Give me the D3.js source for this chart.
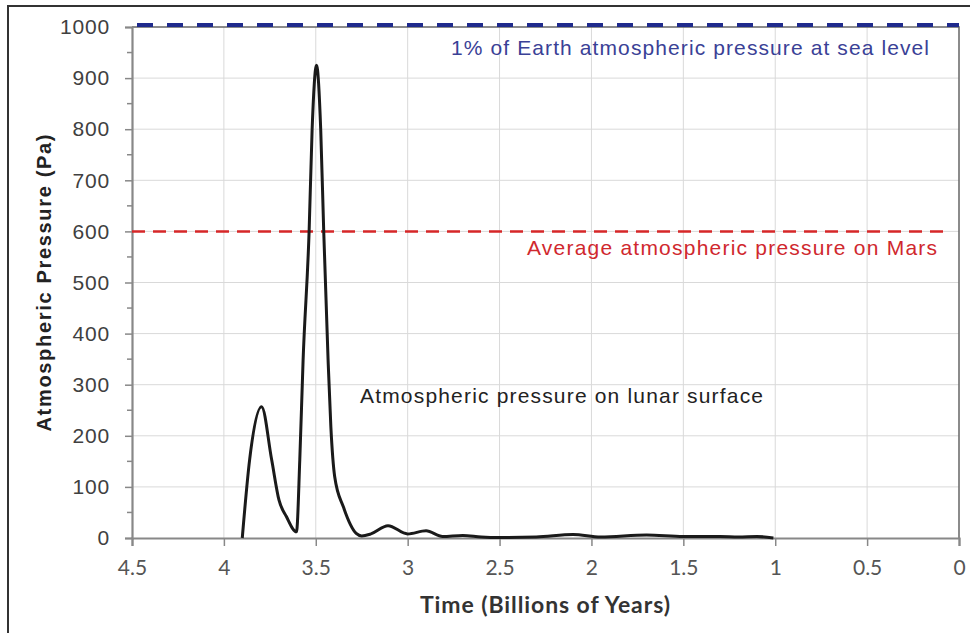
<!DOCTYPE html>
<html lang="en">
<head>
	<meta charset="UTF-8">
	<title>Lunar atmosphere</title>
	<script src="https://d3js.org/d3.v7.min.js"></script>
	<style>
		body { margin: 0; background: #fff; }
		.grid line { stroke: #d9d9d9; stroke-width: 1; }
		.ylab { font: 21px "Liberation Sans", Arial, sans-serif; fill: #404040; }
		.xlab { font: 21px Lato, sans-serif; fill: #555; }
		.note { font: 21px "Liberation Sans", Arial, sans-serif; }
	</style>
</head>
<body>
	<script>
		const width = 970;
		const height = 633;

		// lunar surface pressure curve (billions of years ago, Pa)
		const years = [3.9, 3.86, 3.795, 3.74, 3.70, 3.66, 3.605, 3.587, 3.569, 3.536, 3.52, 3.496, 3.473, 3.457, 3.433, 3.418, 3.397, 3.35, 3.28, 3.25, 3.2, 3.107, 3.0, 2.9, 2.81, 2.7, 2.6, 2.5, 2.3, 2.1, 1.95, 1.7, 1.5, 1.3, 1.2, 1.1, 1.01];
		const pressure = [0, 153, 257, 153, 74, 42, 12, 153, 348, 603, 798, 925, 798, 603, 348, 218, 120, 61, 9, 4, 8, 24, 8, 14, 3, 5, 2, 1, 2, 7, 2, 6, 3, 3, 2, 3, 0];

		const xTicks = [4.5, 4, 3.5, 3, 2.5, 2, 1.5, 1, 0.5, 0];
		const yTicks = [0, 100, 200, 300, 400, 500, 600, 700, 800, 900, 1000];
		const yMinor = [50, 150, 250, 350, 450, 550, 650, 750, 850, 950];

		const earthLevel = 1000;
		const marsLevel = 600;
		const earthLabel = "1% of Earth atmospheric pressure at sea level";
		const marsLabel = "Average atmospheric pressure on Mars";
		const moonLabel = "Atmospheric pressure on lunar surface";

		const svg = d3.select("body").append("svg")
			.attr("width", width)
			.attr("height", height);

		svg.append("rect")
			.attr("x", 8).attr("y", 6)
			.attr("width", 1000).attr("height", 1000)
			.attr("fill", "#fff")
			.attr("stroke", "#333")
			.attr("stroke-width", 2);

		const x = d3.scaleLinear().domain([4.5, 0]).range([132, 959]);
		const y = d3.scaleLinear().domain([0, 1000]).range([538, 27]);

		// gridlines
		const grid = svg.append("g").attr("class", "grid");
		grid.selectAll(".h")
			.data(yTicks.filter(d => d > 0 && d < 1000))
			.enter().append("line")
			.attr("x1", x(4.5)).attr("x2", x(0))
			.attr("y1", d => y(d)).attr("y2", d => y(d));
		grid.selectAll(".v")
			.data(xTicks.filter(d => d > 0 && d < 4.5))
			.enter().append("line")
			.attr("x1", d => x(d)).attr("x2", d => x(d))
			.attr("y1", y(0)).attr("y2", y(1000));

		// plot frame (top and right)
		svg.append("path")
			.attr("d", `M${x(4.5)},${y(1000)}H${x(0)}V${y(0)}`)
			.attr("fill", "none")
			.attr("stroke", "#666")
			.attr("stroke-width", 1.5);

		// y axis
		const yAxis = svg.append("g").attr("transform", `translate(${x(4.5)},0)`)
			.call(d3.axisLeft(y).tickValues(yTicks).tickSize(7).tickPadding(15).tickFormat(d3.format("d")));
		yAxis.select(".domain").attr("stroke", "#888").attr("stroke-width", 2.2);
		yAxis.selectAll(".tick line").attr("stroke", "#888").attr("stroke-width", 1.5);
		yAxis.selectAll(".tick text").attr("class", "ylab").attr("letter-spacing", 0.8).attr("font-size", null).attr("font-family", null).attr("fill", null);
		yAxis.append("g").selectAll("line")
			.data(yMinor)
			.enter().append("line")
			.attr("x1", -5).attr("x2", 0)
			.attr("y1", d => y(d)).attr("y2", d => y(d))
			.attr("stroke", "#888").attr("stroke-width", 1.5);

		// x axis
		const xAxis = svg.append("g").attr("transform", `translate(0,${y(0)})`)
			.call(d3.axisBottom(x).tickValues(xTicks).tickSize(8).tickPadding(14).tickFormat(d3.format("")));
		xAxis.select(".domain").attr("stroke", "#888").attr("stroke-width", 2.2);
		xAxis.selectAll(".tick line").attr("stroke", "#888").attr("stroke-width", 1.5);
		xAxis.selectAll(".tick text").attr("class", "xlab").attr("font-size", null).attr("font-family", null).attr("fill", null);

		// axis titles
		svg.append("text")
			.attr("x", 545).attr("y", 613)
			.attr("text-anchor", "middle")
			.attr("font-family", "Lato, sans-serif")
			.attr("font-weight", "bold")
			.attr("font-size", 23)
			.attr("fill", "#333")
			.attr("textLength", 250)
			.attr("lengthAdjust", "spacing")
			.text("Time (Billions of Years)");

		svg.append("text")
			.attr("transform", "translate(51,283) rotate(-90)")
			.attr("text-anchor", "middle")
			.attr("font-family", "'Liberation Sans', Arial, sans-serif")
			.attr("font-weight", "bold")
			.attr("font-size", 20)
			.attr("fill", "#222")
			.attr("textLength", 297)
			.attr("lengthAdjust", "spacing")
			.text("Atmospheric  Pressure (Pa)");

		// reference levels
		svg.append("line")
			.attr("x1", x(4.5)).attr("x2", x(0.06))
			.attr("y1", y(marsLevel)).attr("y2", y(marsLevel))
			.attr("stroke", "#d62728")
			.attr("stroke-width", 2.5)
			.attr("stroke-dasharray", "13,8");

		svg.append("line")
			.attr("x1", x(4.5)).attr("x2", x(0))
			.attr("y1", y(earthLevel) - 2).attr("y2", y(earthLevel) - 2)
			.attr("stroke", "#1f2a8c")
			.attr("stroke-width", 4)
			.attr("stroke-dasharray", "16,14")
			.attr("stroke-dashoffset", -5);

		// lunar curve
		const line = d3.line()
			.x((d, i) => x(years[i]))
			.y(d => y(d))
			.curve(d3.curveMonotoneX);

		svg.append("path")
			.datum(pressure)
			.attr("d", line)
			.attr("fill", "none")
			.attr("stroke", "#1a1a1a")
			.attr("stroke-width", 3)
			.attr("stroke-linejoin", "round");

		// labels
		svg.append("text").attr("class", "note")
			.attr("x", 451).attr("y", 55)
			.attr("fill", "#3a4196")
			.attr("textLength", 478).attr("lengthAdjust", "spacing")
			.text(earthLabel);

		svg.append("text").attr("class", "note")
			.attr("x", 527).attr("y", 255)
			.attr("fill", "#d0282e")
			.attr("textLength", 410).attr("lengthAdjust", "spacing")
			.text(marsLabel);

		svg.append("text").attr("class", "note")
			.attr("x", 360).attr("y", 403)
			.attr("fill", "#222")
			.attr("textLength", 403).attr("lengthAdjust", "spacing")
			.text(moonLabel);
	</script>
</body>
</html>
